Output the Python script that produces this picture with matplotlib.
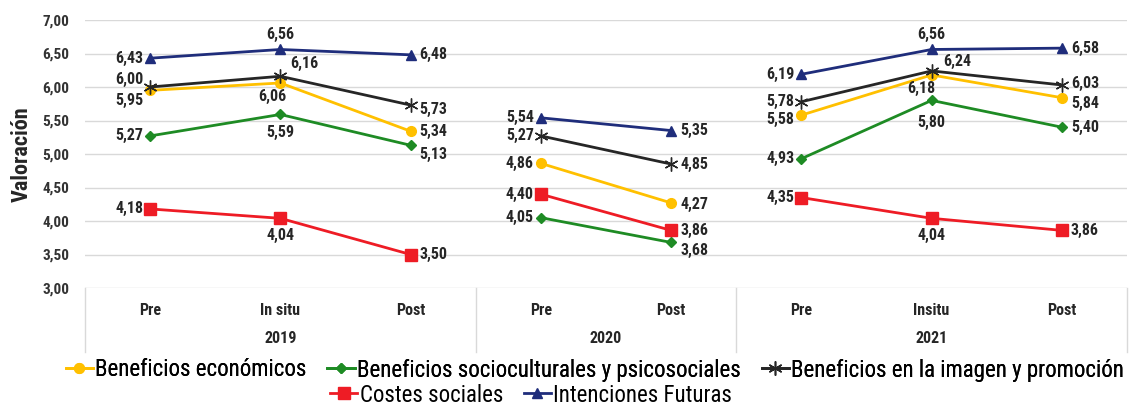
import matplotlib
matplotlib.use("Agg")
import matplotlib.pyplot as plt
from matplotlib import font_manager
from matplotlib.lines import Line2D

# pick a narrow font if there is one
font = "DejaVu Sans"
for cand in ["Liberation Sans Narrow", "Roboto Condensed", "DejaVu Sans Condensed"]:
    try:
        font_manager.findfont(cand, fallback_to_default=False)
        font = cand
        break
    except Exception:
        pass
plt.rcParams["font.family"] = [font, "DejaVu Sans"]

categories = ["Pre", "In situ", "Post", "Pre", "Post", "Pre", "Insitu", "Post"]
years = ["2019", "2020", "2021"]
group_sizes = [3, 2, 3]

economicos = [5.95, 6.06, 5.34, 4.86, 4.27, 5.58, 6.18, 5.84]
socioculturales = [5.27, 5.59, 5.13, 4.05, 3.68, 4.93, 5.80, 5.40]
imagen = [6.00, 6.16, 5.73, 5.27, 4.85, 5.78, 6.24, 6.03]
costes = [4.18, 4.04, 3.50, 4.40, 3.86, 4.35, 4.04, 3.86]
intenciones = [6.43, 6.56, 6.48, 5.54, 5.35, 6.19, 6.56, 6.58]

series = [
    ("Beneficios económicos", economicos, "#FFC000", "o", 7),
    ("Beneficios socioculturales y psicosociales", socioculturales, "#1E8B24", "D", 5),
    ("Beneficios en la imagen y promoción", imagen, "#262626", (6, 2, 0), 10),
    ("Costes sociales", costes, "#EE1C25", "s", 8),
    ("Intenciones Futuras", intenciones, "#1F2D7B", "^", 7),
]

# where each data label goes (l/r/a/b + pixel nudge)
label_pos = {
    "Beneficios económicos": [("l", -10), ("b", -14, -8), ("r", 0), ("l", 0), ("r", -2), ("l", -4), ("b", -14, -10), ("r", -6)],
    "Beneficios socioculturales y psicosociales": [("l", 0), ("b", -18), ("r", -9), ("l", 0), ("r", -8), ("l", 0), ("b", -22), ("r", 0)],
    "Beneficios en la imagen y promoción": [("l", 8), ("a", 13, 24), ("r", -4), ("l", 0), ("r", 0), ("l", 0), ("a", 9, 26), ("r", 1)],
    "Costes sociales": [("l", 0), ("b", -17), ("r", 0), ("l", 0), ("r", 0), ("l", 0), ("b", -17), ("r", 0)],
    "Intenciones Futuras": [("l", 0), ("a", 15), ("r", 0), ("l", 0), ("r", 0), ("l", 0), ("a", 15), ("r", 0)],
}

fig = plt.figure(figsize=(11.29, 4.07), dpi=100)
ax = fig.add_axes([85 / 1129, 1 - 288 / 407, 1042 / 1129, 268 / 407])

x = list(range(len(categories)))
starts = [0, 3, 5]
handles = []
for name, vals, col, mk, ms in series:
    for s, n in zip(starts, group_sizes):
        ax.plot(x[s:s + n], vals[s:s + n], color=col, lw=2, marker=mk, ms=ms,
                markeredgecolor=col, markeredgewidth=1, zorder=3)
    handles.append(Line2D([], [], color=col, lw=2, marker=mk, ms=ms, markeredgecolor=col))
    for i, (xi, v) in enumerate(zip(x, vals)):
        p = label_pos[name][i]
        side, dy = p[0], p[1]
        dx = p[2] if len(p) > 2 else None
        if side == "l":
            off, ha = (-7 if dx is None else dx, dy), "right"
        elif side == "r":
            off, ha = (9 if dx is None else dx, dy), "left"
        else:
            off, ha = (0 if dx is None else dx, dy), "center"
        ax.annotate(f"{v:.2f}".replace(".", ","), (xi, v), xytext=off,
                    textcoords="offset pixels", ha=ha, va="center",
                    fontsize=11.5, fontweight="bold", color="#262626", zorder=4)

ax.set_xlim(-0.5, 7.5)
ax.set_ylim(3, 7)
ax.set_yticks([3 + 0.5 * i for i in range(9)])
ax.set_yticklabels([f"{3 + 0.5 * i:.2f}".replace(".", ",") for i in range(9)],
                   fontsize=11, fontweight="bold", color="#333333")
ax.set_xticks([])
ax.tick_params(axis="y", length=0, pad=11)
for sp in ax.spines.values():
    sp.set_visible(False)
ax.grid(axis="y", color="#D9D9D9", lw=1)
ax.set_ylabel("Valoración", fontsize=16, fontweight="bold", color="#262626", labelpad=7)

# category and year labels under the axis
tr = ax.get_xaxis_transform()
for xi, c in zip(x, categories):
    ax.text(xi, -0.085, c, transform=tr, ha="center", va="center",
            fontsize=11.5, fontweight="bold", color="#262626")
for s, n, yr in zip(starts, group_sizes, years):
    ax.text(s + (n - 1) / 2, -0.19, yr, transform=tr, ha="center", va="center",
            fontsize=11.5, fontweight="bold", color="#262626")
for b in [-0.5, 2.5, 4.5, 7.5]:
    ax.plot([b, b], [0, -0.24], transform=tr, color="#D9D9D9", lw=1, clip_on=False)

leg_kw = dict(loc="center", frameon=False, fontsize=16.5, handlelength=1.2,
              handletextpad=0.1, columnspacing=0.9)
leg1 = fig.legend(handles[:3], [s[0] for s in series[:3]], ncol=3,
                  bbox_to_anchor=(595 / 1129, 1 - 370 / 407), **leg_kw)
fig.add_artist(leg1)
fig.legend(handles[3:], [s[0] for s in series[3:]], ncol=2,
           bbox_to_anchor=(531 / 1129, 1 - 395 / 407), **leg_kw)

fig.savefig("out.png", dpi=100, facecolor="white")
